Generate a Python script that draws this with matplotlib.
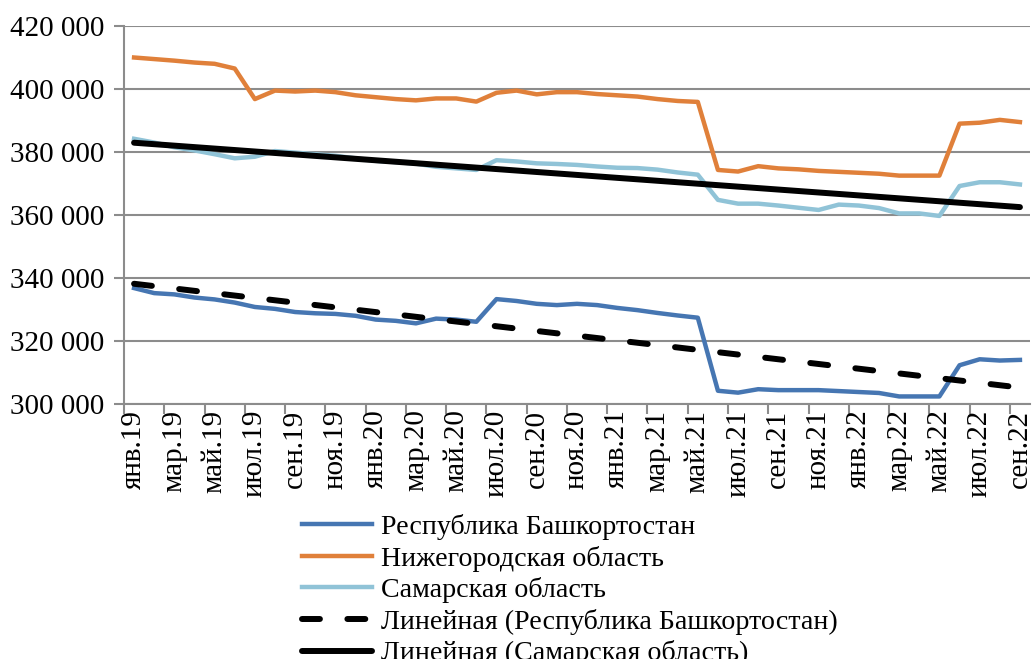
import matplotlib
matplotlib.use("Agg")
import matplotlib.pyplot as plt
import numpy as np

months = ["янв", "фев", "мар", "апр", "май", "июн", "июл", "авг", "сен", "окт", "ноя", "дек"]
categories = [f"{months[m]}.{y}" for y in (19, 20, 21, 22) for m in range(12)][:45]

bashkortostan = [336.8, 335.2, 334.8, 333.8, 333.2, 332.2, 330.8, 330.2, 329.2, 328.8,
                 328.6, 328.0, 326.8, 326.4, 325.6, 327.1, 326.8, 326.1, 333.3, 332.7,
                 331.8, 331.4, 331.8, 331.4, 330.5, 329.8, 328.9, 328.1, 327.4, 304.2,
                 303.6, 304.7, 304.4, 304.4, 304.4, 304.1, 303.8, 303.5, 302.4, 302.4,
                 302.4, 312.3, 314.2, 313.8, 314.0]
nizhny = [410.0, 409.5, 409.0, 408.4, 408.0, 406.5, 396.8, 399.5, 399.2, 399.5,
          399.0, 398.0, 397.4, 396.8, 396.4, 397.0, 397.0, 396.0, 398.8, 399.5,
          398.3, 399.0, 399.0, 398.4, 398.0, 397.6, 396.8, 396.2, 395.9, 374.3,
          373.8, 375.5, 374.8, 374.5, 374.0, 373.7, 373.4, 373.1, 372.5, 372.5,
          372.5, 389.0, 389.3, 390.2, 389.5]
samara = [384.2, 383.0, 381.5, 380.5, 379.3, 378.0, 378.5, 380.3, 379.8, 379.3,
          378.8, 378.0, 377.2, 376.8, 376.3, 375.3, 374.8, 374.3, 377.4, 377.0,
          376.4, 376.2, 375.9, 375.4, 375.0, 374.9, 374.4, 373.5, 372.8, 364.8,
          363.6, 363.6, 363.0, 362.3, 361.6, 363.3, 363.0, 362.2, 360.5, 360.5,
          359.7, 369.2, 370.4, 370.4, 369.7]

bashkortostan = np.array(bashkortostan) * 1000
nizhny = np.array(nizhny) * 1000
samara = np.array(samara) * 1000

labels = ["Республика Башкортостан", "Нижегородская область", "Самарская область",
          "Линейная (Республика Башкортостан)", "Линейная (Самарская область)"]

plt.rcParams['font.family'] = ['Liberation Serif', 'DejaVu Serif']

fig = plt.figure(figsize=(10.35, 6.59), dpi=100)
ax = fig.add_axes([124 / 1035, 1 - 404 / 659, (1030 - 124) / 1035, (404 - 26) / 659])

x = np.arange(len(categories))
c_blue = '#4676B2'
c_orange = '#E0803A'
c_light = '#90C3D7'

ax.plot(x, bashkortostan, color=c_blue, lw=3.2, label=labels[0], zorder=3)
ax.plot(x, nizhny, color=c_orange, lw=3.2, label=labels[1], zorder=3)
ax.plot(x, samara, color=c_light, lw=3.2, label=labels[2], zorder=3)

pb = np.polyfit(x, bashkortostan, 1)
ps = np.polyfit(x, samara, 1)
ax.plot(x, np.polyval(pb, x), color='black', lw=4.3, dashes=(3.0, 4.6),
        dash_capstyle='round', label=labels[3], zorder=4)
ax.plot(x, np.polyval(ps, x), color='black', lw=4.3, solid_capstyle='round',
        label=labels[4], zorder=4)

ax.set_xlim(-0.5, len(categories) - 0.5)
ax.set_ylim(300000, 420000)
yt = np.arange(300000, 420001, 20000)
ax.set_yticks(yt)
ax.set_yticklabels([f"{v // 1000} 000" for v in yt], fontsize=21)
ax.grid(axis='y', color='#8C8C8C', lw=1.5)
ax.set_axisbelow(True)

ax.set_xticks(np.arange(-0.5, len(categories) - 0.5, 2))
ax.set_xticklabels([])
ax.set_xticks(x[::2], minor=True)
ax.set_xticklabels(categories[::2], minor=True, rotation=90, fontsize=21)
ax.tick_params(axis='x', which='minor', length=0, pad=4)
ax.tick_params(axis='x', which='major', length=7, width=1.5, color='#8C8C8C')
ax.tick_params(axis='y', length=7, width=1.5, color='#8C8C8C', pad=7)

for s in ('top', 'right'):
    ax.spines[s].set_visible(False)
for s in ('left', 'bottom'):
    ax.spines[s].set_color('#8C8C8C')
    ax.spines[s].set_linewidth(1.5)

fig.legend(loc='upper left', bbox_to_anchor=(302 / 1035, 1 - 514 / 659), frameon=False,
           fontsize=20.2, handlelength=2.5, handletextpad=0.3, labelspacing=0.2,
           borderpad=0, borderaxespad=0)

fig.savefig("out.png", dpi=100)
